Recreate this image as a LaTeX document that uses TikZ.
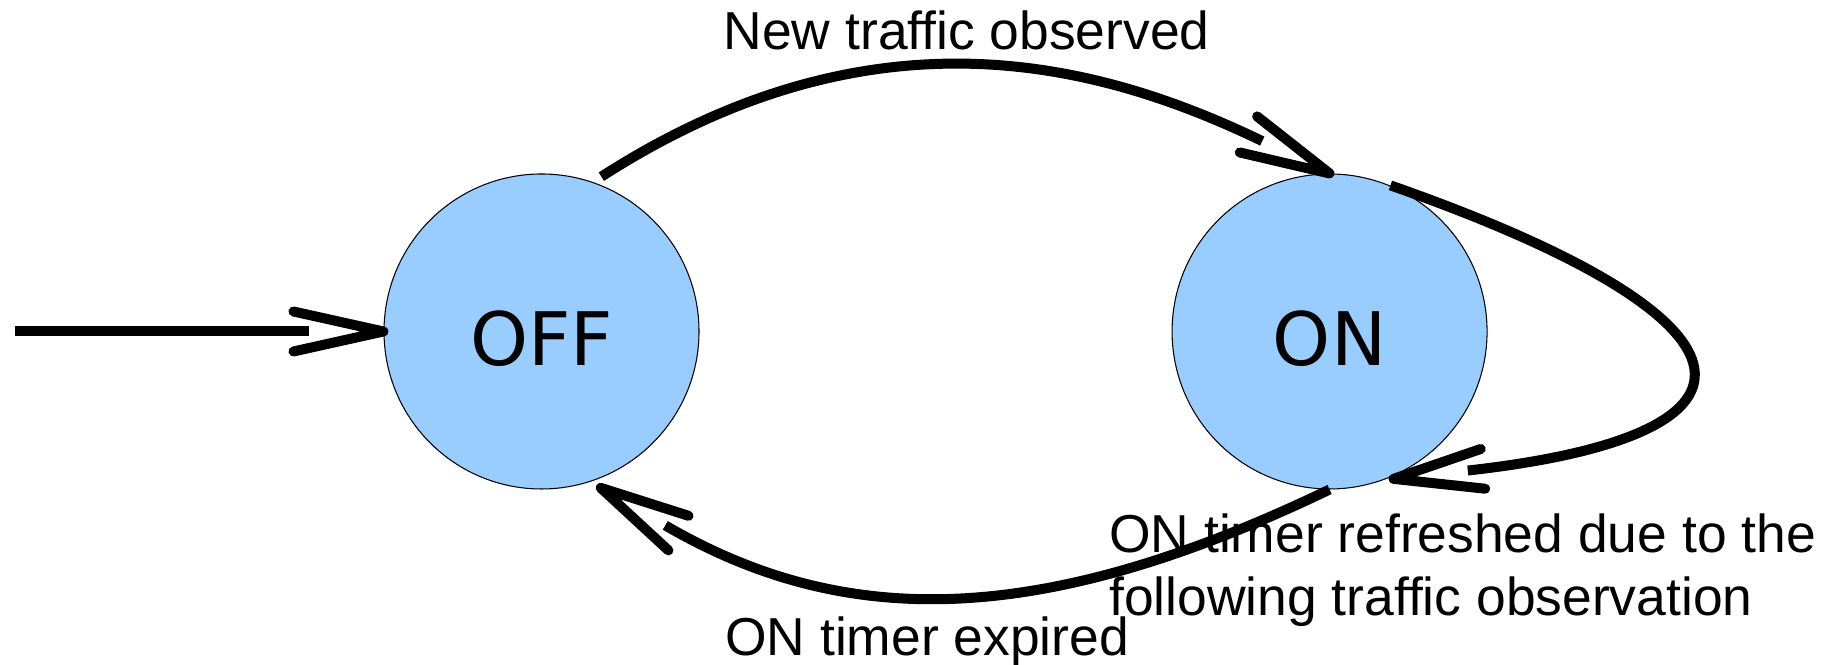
\documentclass[tikz,border=0pt]{standalone}
\usepackage{fontspec}
\setmainfont{Liberation Sans}
\newfontfamily\statefont{DejaVu Sans}
\usetikzlibrary{arrows.meta,positioning}

\definecolor{stateblue}{RGB}{153,204,255}

% open V tip, the shaft stops near the back of the tip
\pgfdeclarearrow{
  name = OpenV,
  parameters = {\the\pgfarrowlength,\the\pgfarrowwidth,\the\pgfarrowlinewidth},
  setup code = {
    \pgfarrowssettipend{0pt}
    \pgfarrowssetlineend{-.83\pgfarrowlength}
    \pgfarrowssetbackend{-\pgfarrowlength}
    \pgfarrowshullpoint{0pt}{0pt}
    \pgfarrowsupperhullpoint{-\pgfarrowlength}{.5\pgfarrowwidth}
    \pgfarrowssavethe\pgfarrowlength
    \pgfarrowssavethe\pgfarrowwidth
    \pgfarrowssavethe\pgfarrowlinewidth
  },
  drawing code = {
    \pgfsetlinewidth{\pgfarrowlinewidth}
    \pgfsetroundcap
    \pgfsetroundjoin
    \pgfpathmoveto{\pgfqpoint{-\pgfarrowlength}{.5\pgfarrowwidth}}
    \pgfpathlineto{\pgfpointorigin}
    \pgfpathlineto{\pgfqpoint{-\pgfarrowlength}{-.5\pgfarrowwidth}}
    \pgfusepathqstroke
  },
  defaults = {length = 9mm, width = 4mm, line width = +0pt 1}
}

\begin{document}
\begin{tikzpicture}[state/.style={circle, draw, line width=0.3pt, fill=stateblue, minimum size=3.15cm, inner sep=0pt, text height=0.68cm, text depth=0cm, font=\statefont\fontsize{21}{21}\selectfont},
    arrow/.style={line width=1mm, -OpenV},
    edgetext/.style={inner sep=0pt, font=\fontsize{15.2}{17.9}\selectfont}]

        \useasboundingbox (0,0) rectangle (18.34,6.65);

        % States
        \node [state] (OFF) at (5.415,3.335) {OFF};
        \node [state, right=4.72cm of OFF] (ON) {ON};

        % Entry
        \coordinate (entry) at (0.15,3.335);

        % Arrows
        \draw [arrow] (entry) -- (OFF);
        \draw [arrow, shorten <=1mm] (OFF.71) .. controls (8.76,6.65) and (11.03,6.005) .. (ON.north);
        \draw [arrow, shorten <=1mm, shorten >=1mm] (ON.71) .. controls (17.69,3.47) and (17.94,2.31) .. (ON.-70);
        \draw [arrow, shorten >=1.2mm] (ON.south) .. controls (10.40,0.364) and (8.444,0.353) .. (OFF.-72);

        % Labels
        \node [edgetext, anchor=base west] (new) at (7.23,6.15) {New traffic observed};
        \node [edgetext, anchor=base west] (expired) at (7.245,0.09) {ON timer expired};
        \node [edgetext, anchor=west, align=left] (refresh) at (11.085,0.944) {ON timer refreshed due to the\\following traffic observation};

    \end{tikzpicture}
\end{document}
